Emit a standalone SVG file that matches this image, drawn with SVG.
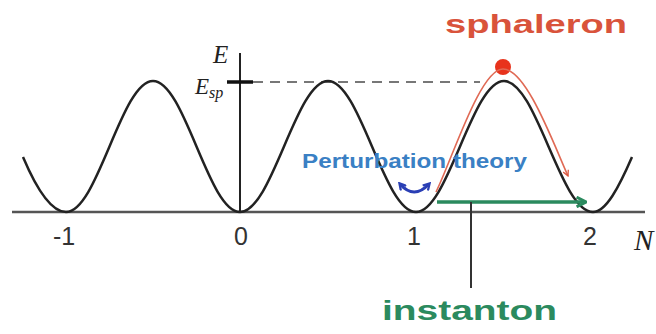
<svg xmlns="http://www.w3.org/2000/svg" width="656" height="334" viewBox="0 0 656 334">
<defs>
<style>
.ax{stroke:#555;stroke-width:2.5;fill:none}
.blk{stroke:#222;stroke-width:2.5;fill:none}
.lbl{font-family:"Liberation Sans",Arial,sans-serif;font-size:25px;fill:#333;text-anchor:middle}
.it{font-family:"Liberation Serif","Times New Roman",serif;font-style:italic;fill:#222}
.big{font-family:"Liberation Sans",Arial,sans-serif;font-weight:bold}
</style>
<marker id="redhead" viewBox="0 0 10 10" refX="9" refY="5" markerWidth="7" markerHeight="7" markerUnits="userSpaceOnUse" orient="auto">
<path d="M1,1 L9,5 L1,9" fill="none" stroke="#d9533b" stroke-width="1.8"/>
</marker>
<marker id="greenhead" viewBox="0 0 10 10" refX="8" refY="5" markerWidth="12" markerHeight="12" markerUnits="userSpaceOnUse" orient="auto">
<path d="M1,1 L9,5 L1,9" fill="none" stroke="#2b8a5e" stroke-width="2.5"/>
</marker>
<marker id="bluehead" viewBox="0 0 10 10" refX="7" refY="5" markerWidth="9" markerHeight="9" markerUnits="userSpaceOnUse" orient="auto-start-reverse">
<path d="M1,1 L8,5 L1,9" fill="none" stroke="#2a3fb5" stroke-width="2.5"/>
</marker>
</defs>
<rect width="656" height="334" fill="#ffffff"/>

<g id="axes">
<line class="ax" x1="12" y1="212" x2="645" y2="212"/>
<line x1="240" y1="53" x2="240" y2="212" stroke="#222" stroke-width="2"/>
<line x1="227" y1="82" x2="253" y2="82" stroke="#111" stroke-width="3.5"/>
<line x1="253" y1="82" x2="480" y2="82" stroke="#777" stroke-width="2" stroke-dasharray="10 7"/>
<text class="it" x="213" y="63" font-size="25">E</text>
<text class="it" x="195" y="94" font-size="23">E<tspan font-size="16" dy="4">sp</tspan></text>
<text class="lbl" x="64" y="245">-1</text>
<text class="lbl" x="241" y="245">0</text>
<text class="lbl" x="414" y="245">1</text>
<text class="lbl" x="590" y="245">2</text>
<text class="it" x="634" y="250" font-size="29">N</text>
</g>

<g id="potential">
<path class="blk" d="M23,157 C37,190 52,212 66,212 C97.7,212 121.3,81 153,81 C184.7,81 208.3,212 240,212 C272,212 296,81 328,81 C360,81 384,212 416,212 C448,212 472,81 504,81 C536.4,81 560.6,212 593,212 C606,212 619,187 632,157"/>
</g>

<g id="sphaleron">
<circle cx="503" cy="67" r="8" fill="#e8331c"/>
<text class="big" x="445" y="33" font-size="26" fill="#d9533b" textLength="182" lengthAdjust="spacingAndGlyphs">sphaleron</text>
</g>

<g id="perturbation">
<text class="big" x="302" y="168" font-size="21" fill="#3a80c4" textLength="225" lengthAdjust="spacingAndGlyphs">Perturbation theory</text>
</g>

<g id="instanton">
<text class="big" x="382" y="320" font-size="27" fill="#2b8a5e" textLength="175" lengthAdjust="spacingAndGlyphs">instanton</text>
</g>

<g id="connectors">
<path d="M436,192 C452,160 480,69 503,69 C526,69 552,140 568,176" fill="none" stroke="#e06a55" stroke-width="1.6" marker-end="url(#redhead)"/>
<line x1="437" y1="202" x2="585" y2="202" stroke="#2b8a5e" stroke-width="3.5" marker-end="url(#greenhead)"/>
<line x1="471" y1="202" x2="471" y2="288" stroke="#333" stroke-width="2"/>
<path d="M400,184 Q414,200 429,184" fill="none" stroke="#2a3fb5" stroke-width="3" marker-start="url(#bluehead)" marker-end="url(#bluehead)"/>
</g>
</svg>
